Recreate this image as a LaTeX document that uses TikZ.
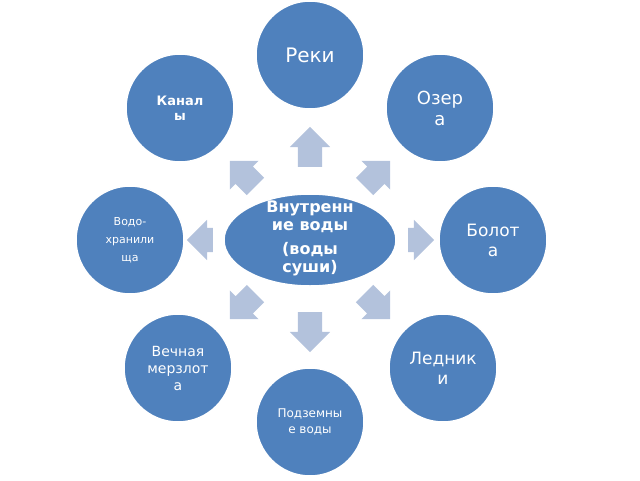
\documentclass[tikz,border=0pt]{standalone}
\usepackage{fontspec}
\setmainfont{DejaVu Sans}
\usetikzlibrary{shapes.arrows,shapes.geometric}
\definecolor{cblue}{HTML}{4F81BD}
\definecolor{ablue}{HTML}{B3C2DC}
\tikzset{
 circ/.style={circle,fill=cblue,draw=white,line width=1.5pt,minimum size=108pt,inner sep=0pt,text=white,align=center},
 arr/.style={single arrow,fill=ablue,draw=none,minimum height=40pt,inner xsep=0pt,inner ysep=12pt,single arrow head extend=8pt}
}
\begin{document}
\begin{tikzpicture}[x=1pt,y=-1pt]
\useasboundingbox (0,0) rectangle (640,480);
\node[circ,font=\fontsize{20}{24}\selectfont] (r) at (310,55) {Реки};
\node[circ,font=\fontsize{13}{15}\selectfont\bfseries] (k) at (180,108) {Канал\\ы};
\node[circ,font=\fontsize{18}{21}\selectfont] (o) at (440,108) {Озер\\а};
\node[circ,font=\fontsize{11}{18}\selectfont] (v) at (130,240) {Водо-\\хранили\\ща};
\node[circ,font=\fontsize{17}{20}\selectfont] (b) at (493,240) {Болот\\а};
\node[circ,font=\fontsize{14}{17}\selectfont] (m) at (178,368) {Вечная\\мерзлот\\а};
\node[circ,font=\fontsize{17}{20}\selectfont] (l) at (443,368) {Ледник\\и};
\node[circ,font=\fontsize{12}{16}\selectfont] (p) at (310,422) {Подземны\\е воды};
\node[ellipse,fill=cblue,draw=white,line width=1.5pt,minimum width=172pt,minimum height=92pt,inner sep=0pt] (c) at (310,240) {};
\node[text=white,align=center,font=\fontsize{16}{18}\selectfont\bfseries] (ct) at (310,238) {Внутренн\\ие воды\\[6pt](воды\\суши)};
\node[arr,rotate=90] (a1) at (310,153) {};
\node[arr,rotate=-90] (a2) at (310,326) {};
\node[arr,rotate=180,minimum height=26pt] (a3) at (206,240) {};
\node[arr,minimum height=26pt] (a4) at (415,240) {};
\node[arr,rotate=135,minimum height=36pt] (a5) at (247,178) {};
\node[arr,rotate=45,minimum height=36pt] (a6) at (373,178) {};
\node[arr,rotate=-135,minimum height=36pt] (a7) at (247,302) {};
\node[arr,rotate=-45,minimum height=36pt] (a8) at (373,302) {};
\end{tikzpicture}
\end{document}
